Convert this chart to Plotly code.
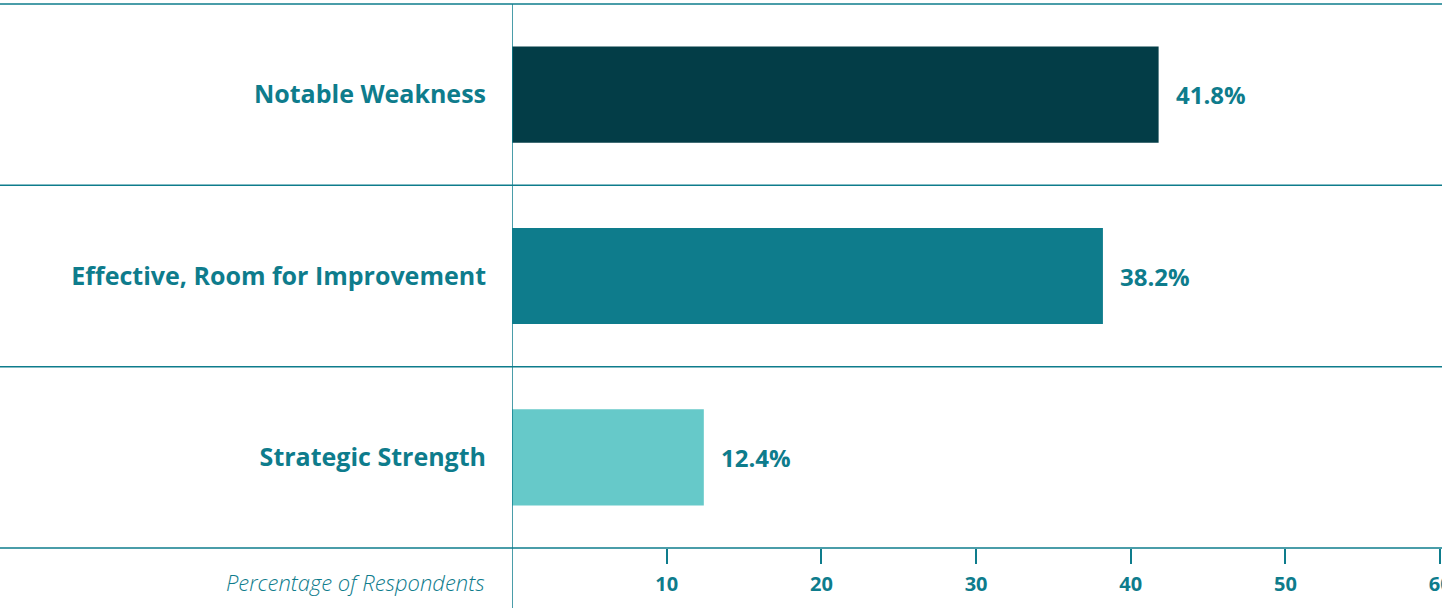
import plotly.graph_objects as go

# Survey responses, top row first
categories = ["Notable Weakness", "Effective, Room for Improvement", "Strategic Strength"]
values = [41.8, 38.2, 12.4]
bar_colors = ["#033d47", "#0e7c8c", "#66c9c9"]
tick_values = [10, 20, 30, 40, 50, 60]
tick_labels = ["10", "20", "30", "40", "50", "60"]
axis_title = "Percentage of Respondents"

TEAL = "#0e7c8c"
FONT = "Open Sans"

W, H = 1442, 608
M_L, M_R, M_T, M_B = 512, 0, 4, 60
plot_w = W - M_L - M_R
plot_h = H - M_T - M_B

fig = go.Figure(
    go.Bar(
        x=values,
        y=categories,
        orientation="h",
        marker=dict(color=bar_colors, line=dict(width=0)),
        width=0.53,
        hoverinfo="skip",
    )
)

# Value labels just right of each bar end
for cat, v in zip(categories, values):
    fig.add_annotation(
        x=v, y=cat, xref="x", yref="y",
        text=f"{v}%", showarrow=False,
        xanchor="left", yanchor="middle", xshift=15,
        font=dict(family=FONT, size=24, color=TEAL, weight="bold"),
    )

# Axis caption in the label column
fig.add_annotation(
    x=-25 / plot_w, y=-34 / plot_h, xref="paper", yref="paper",
    text=axis_title, showarrow=False,
    xanchor="right", yanchor="middle",
    font=dict(family=FONT, size=22, color=TEAL, style="italic", weight=300),
)

# Full-width row separators
x_left = -M_L / plot_w
n = len(categories)
for k in range(n + 1):
    yk = k / n
    fig.add_shape(
        type="line", xref="paper", yref="paper",
        x0=x_left, x1=1.0, y0=yk, y1=yk,
        line=dict(color=TEAL, width=1.5), layer="above",
    )

# Vertical baseline reaching past the bottom axis
fig.add_shape(
    type="line", xref="x", yref="paper",
    x0=0, x1=0, y0=-M_B / plot_h, y1=1.0,
    line=dict(color=TEAL, width=1.5), layer="above",
)

fig.update_layout(
    width=W, height=H,
    margin=dict(l=M_L, r=M_R, t=M_T, b=M_B, pad=0),
    paper_bgcolor="white", plot_bgcolor="white",
    showlegend=False,
    bargap=0.47,
    xaxis=dict(
        range=[0, 60.12],
        tickvals=tick_values, ticktext=tick_labels,
        ticks="outside", ticklen=15, tickwidth=1.5, tickcolor=TEAL,
        showgrid=False, zeroline=False, showline=False,
        tickfont=dict(family=FONT, size=20, color=TEAL, weight="bold"),
        ticklabelstandoff=3,
        ticklabeloverflow="allow",
        automargin=False,
        fixedrange=True,
    ),
    yaxis=dict(
        categoryorder="array", categoryarray=categories,
        autorange="reversed",
        showgrid=False, zeroline=False, showline=False,
        ticks="", ticklabelstandoff=25,
        tickfont=dict(family=FONT, size=25, color=TEAL, weight="bold"),
        automargin=False,
        fixedrange=True,
    ),
)

fig.write_html("out.html", config={"displayModeBar": False})
